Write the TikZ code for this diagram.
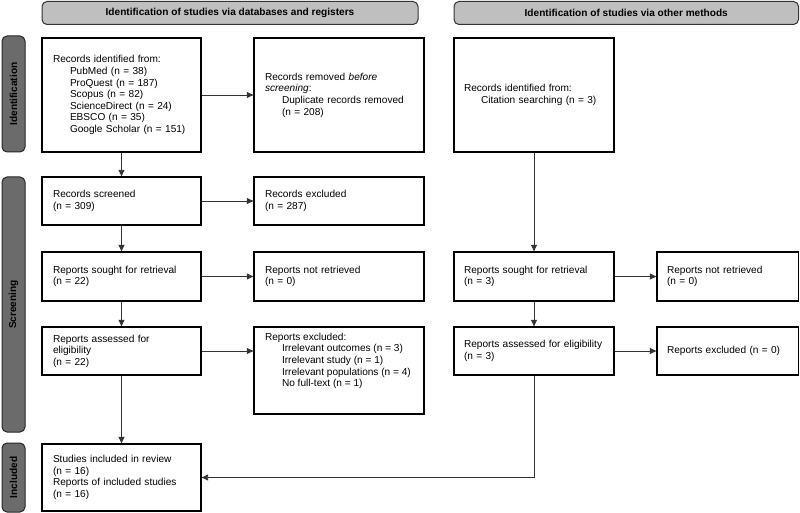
\documentclass[tikz,border=0pt]{standalone}
\usepackage{fontspec}
\setmainfont{Liberation Sans}
\usetikzlibrary{arrows.meta}
\begin{document}
\begin{tikzpicture}[x=1pt,y=-1pt,
 box/.style={draw=black, line width=1.3pt, align=left, inner xsep=11pt, inner ysep=3pt, font=\fontsize{10.1}{11.6}\selectfont, text=black},
 rbox/.style={box, inner xsep=10pt},
 hdr/.style={draw=black!80, fill=black!25, rounded corners=5pt, line width=1pt, font=\bfseries\fontsize{10.1}{12}\selectfont, text=black},
 bar/.style={draw=black!85, fill=black!58, rounded corners=5pt, line width=1pt, font=\bfseries\fontsize{10.1}{12}\selectfont, text=black, rotate=90},
 arr/.style={draw=black!80, line width=0.9pt, -{Triangle[length=6.5pt,width=6pt]}},
]
\useasboundingbox (0,0) rectangle (800,513);
% headers
\node[hdr, minimum width=376pt, minimum height=23pt] (hdrL) at (230,13) {Identification of studies via databases and registers};
\node[hdr, minimum width=344.5pt, minimum height=23pt] (hdrR) at (626.25,13) {Identification of studies via other methods};
% side bars
\node[bar, minimum width=116pt, minimum height=23pt] (barI) at (13.5,94) {Identification};
\node[bar, minimum width=255pt, minimum height=23pt] (barS) at (13.5,304.5) {Screening};
\node[bar, minimum width=69pt, minimum height=23pt] (barN) at (13.5,477.5) {Included};
% left column
\node[box, minimum width=159pt, minimum height=114pt, text width=137pt] (b1) at (121.5,95) {Records identified from:\\
\hspace*{17pt}PubMed (n = 38)\\
\hspace*{17pt}ProQuest (n = 187)\\
\hspace*{17pt}Scopus (n = 82)\\
\hspace*{17pt}ScienceDirect (n = 24)\\
\hspace*{17pt}EBSCO (n = 35)\\
\hspace*{17pt}Google Scholar (n = 151)};
\node[box, minimum width=170pt, minimum height=114pt, text width=148pt] (b2) at (339,95) {Records removed \emph{before}\\
\emph{screening}:\\
\hspace*{17pt}Duplicate records removed\\
\hspace*{17pt}(n = 208)};
\node[box, minimum width=159pt, minimum height=48pt, text width=137pt] (b4) at (121.5,201) {Records screened\\(n = 309)};
\node[box, minimum width=170pt, minimum height=48pt, text width=148pt] (b5) at (339,201) {Records excluded\\(n = 287)};
\node[box, minimum width=159pt, minimum height=49pt, text width=137pt] (b6) at (121.5,276.5) {Reports sought for retrieval\\(n = 22)};
\node[box, minimum width=170pt, minimum height=49pt, text width=148pt] (b7) at (339,276.5) {Reports not retrieved\\(n = 0)};
\node[box, minimum width=159pt, minimum height=48pt, text width=137pt] (b8) at (121.5,351) {Reports assessed for\\eligibility\\(n = 22)};
\node[box, minimum width=170pt, minimum height=87pt] (b9) at (339,370.5) {\parbox[c][75pt][t]{148pt}{\raggedright Reports excluded:\\
\hspace*{17pt}Irrelevant outcomes (n = 3)\\
\hspace*{17pt}Irrelevant study (n = 1)\\
\hspace*{17pt}Irrelevant populations (n = 4)\\
\hspace*{17pt}No full-text (n = 1)}};
\node[box, minimum width=159pt, minimum height=67pt, text width=137pt] (b10) at (121.5,477.5) {Studies included in review\\(n = 16)\\Reports of included studies\\(n = 16)};
% right column
\node[rbox, minimum width=160pt, minimum height=114pt, text width=140pt] (b3) at (534,95) {Records identified from:\\
\hspace*{17pt}Citation searching (n = 3)};
\node[rbox, minimum width=160pt, minimum height=49pt, text width=140pt] (r1) at (534,276.5) {Reports sought for retrieval\\(n = 3)};
\node[rbox, minimum width=141.5pt, minimum height=49pt, text width=121.5pt] (r2) at (727.75,276.5) {Reports not retrieved\\(n = 0)};
\node[rbox, minimum width=160pt, minimum height=48pt, text width=140pt] (r3) at (534,351) {\mbox{Reports assessed for eligibility}\\(n = 3)};
\node[rbox, minimum width=141.5pt, minimum height=48pt, text width=121.5pt] (r4) at (727.75,351) {Reports excluded (n = 0)};
% connectors
\draw[arr] (b1) -- (b2);
\draw[arr] (b1) -- (b4);
\draw[arr] (b4) -- (b5);
\draw[arr] (b4) -- (b6);
\draw[arr] (b6) -- (b7);
\draw[arr] (b6) -- (b8);
\draw[arr] (b8.east) -- (b8.east -| b9.west);
\draw[arr] (b8) -- (b10);
\draw[arr] (b3) -- (r1);
\draw[arr] (r1) -- (r2);
\draw[arr] (r1) -- (r3);
\draw[arr] (r3) -- (r4);
\draw[arr] (r3.south) |- (b10.east);
\end{tikzpicture}
\end{document}
